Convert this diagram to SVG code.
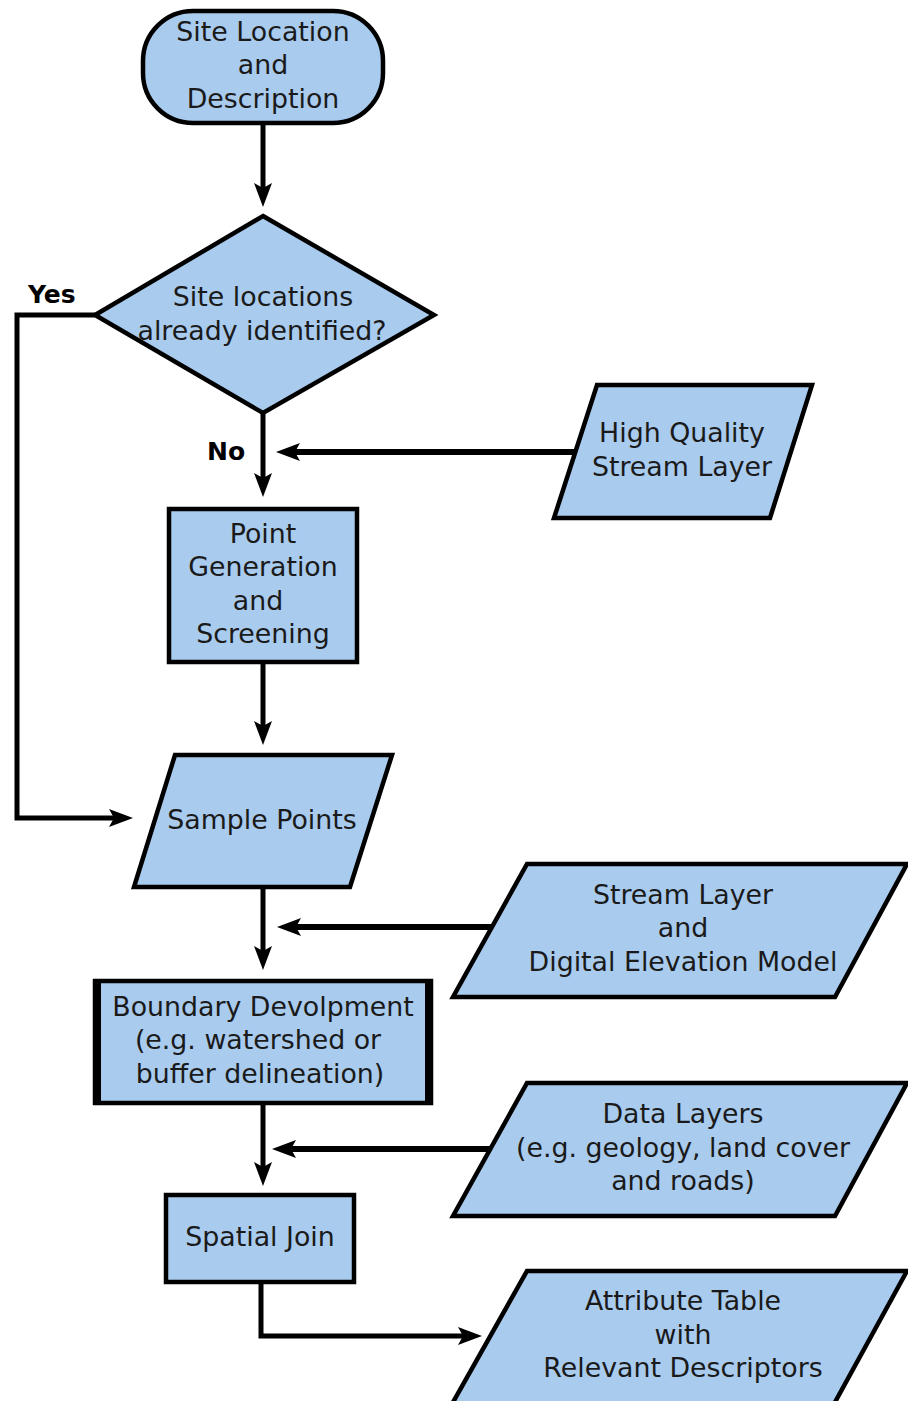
<svg xmlns="http://www.w3.org/2000/svg" width="908" height="1401" viewBox="0 0 908 1401">
<style>
.shape{fill:#a9cbee;stroke:#000;stroke-width:4.5;stroke-linejoin:miter}
.t{font-family:"DejaVu Sans",Verdana,sans-serif;font-size:26.8px;fill:#1a1a1a;text-anchor:middle}
.lbl{font-family:"DejaVu Sans",Verdana,sans-serif;font-size:25px;font-weight:bold;fill:#000}
.c{fill:none;stroke:#000;stroke-width:5;stroke-linejoin:miter}
.c2{fill:none;stroke:#000;stroke-width:6}
</style>
<defs>
<marker id="ah" markerUnits="userSpaceOnUse" markerWidth="26" markerHeight="20" refX="12" refY="9" orient="auto" viewBox="0 0 26 20">
<path d="M0,0 L24,9 L0,18 L5,9 z" fill="#000"/>
</marker>
</defs>
<rect width="908" height="1401" fill="#fff"/>

<g id="connectors">
<path class="c" d="M263,123 V195" marker-end="url(#ah)"/>
<path class="c" d="M95,315 H17 V818 H121" marker-end="url(#ah)"/>
<path class="c" d="M263,413 V485" marker-end="url(#ah)"/>
<path class="c2" d="M576,452 H288" marker-end="url(#ah)"/>
<path class="c" d="M263,662 V733" marker-end="url(#ah)"/>
<path class="c" d="M263,888 V958" marker-end="url(#ah)"/>
<path class="c2" d="M492,927 H289" marker-end="url(#ah)"/>
<path class="c" d="M263,1104 V1174" marker-end="url(#ah)"/>
<path class="c2" d="M492,1149 H284" marker-end="url(#ah)"/>
<path class="c" d="M261,1282 V1336 H470" marker-end="url(#ah)"/>
</g>
<text class="lbl" x="28" y="303">Yes</text>
<text class="lbl" x="207" y="460">No</text>

<g id="start">
<rect class="shape" x="143" y="11" width="240" height="112" rx="50" ry="50"/>
<text class="t" x="263" y="41">Site Location</text>
<text class="t" x="263" y="74">and</text>
<text class="t" x="263" y="108">Description</text>
</g>

<g id="decision">
<polygon class="shape" points="263,216 434,315 263,413 95,315"/>
<text class="t" x="263" y="306">Site locations</text>
<text class="t" x="262" y="340">already identified?</text>
</g>

<g id="stream-hq">
<polygon class="shape" points="597,385 812,385 770,518 554,518"/>
<text class="t" x="682" y="442">High Quality</text>
<text class="t" x="682" y="476">Stream Layer</text>
</g>

<g id="point-gen">
<rect class="shape" x="169" y="509" width="188" height="153"/>
<text class="t" x="263" y="543">Point</text>
<text class="t" x="263" y="576">Generation</text>
<text class="t" x="258" y="610">and</text>
<text class="t" x="263" y="643">Screening</text>
</g>

<g id="sample-points">
<polygon class="shape" points="175,755 392,755 350,887 134,887"/>
<text class="t" x="262" y="829">Sample Points</text>
</g>

<g id="stream-dem">
<polygon class="shape" points="527,864 907,864 835,997 453,997"/>
<text class="t" x="683" y="904">Stream Layer</text>
<text class="t" x="683" y="937">and</text>
<text class="t" x="683" y="971">Digital Elevation Model</text>
</g>

<g id="boundary">
<rect class="shape" x="95" y="981" width="336" height="122"/>
<rect x="93" y="979" width="8" height="126" fill="#000"/>
<rect x="425" y="979" width="8" height="126" fill="#000"/>
<text class="t" x="263" y="1016">Boundary Devolpment</text>
<text class="t" x="258" y="1049">(e.g. watershed or</text>
<text class="t" x="260" y="1083">buffer delineation)</text>
</g>

<g id="data-layers">
<polygon class="shape" points="527,1083 907,1083 835,1216 453,1216"/>
<text class="t" x="683" y="1123">Data Layers</text>
<text class="t" x="683" y="1157">(e.g. geology, land cover</text>
<text class="t" x="683" y="1190">and roads)</text>
</g>

<g id="spatial-join">
<rect class="shape" x="166" y="1195" width="188" height="87"/>
<text class="t" x="260" y="1246">Spatial Join</text>
</g>

<g id="attribute-table">
<polygon class="shape" points="527,1271 907,1271 834,1404 452,1404"/>
<text class="t" x="683" y="1310">Attribute Table</text>
<text class="t" x="683" y="1344">with</text>
<text class="t" x="683" y="1377">Relevant Descriptors</text>
</g>
</svg>
